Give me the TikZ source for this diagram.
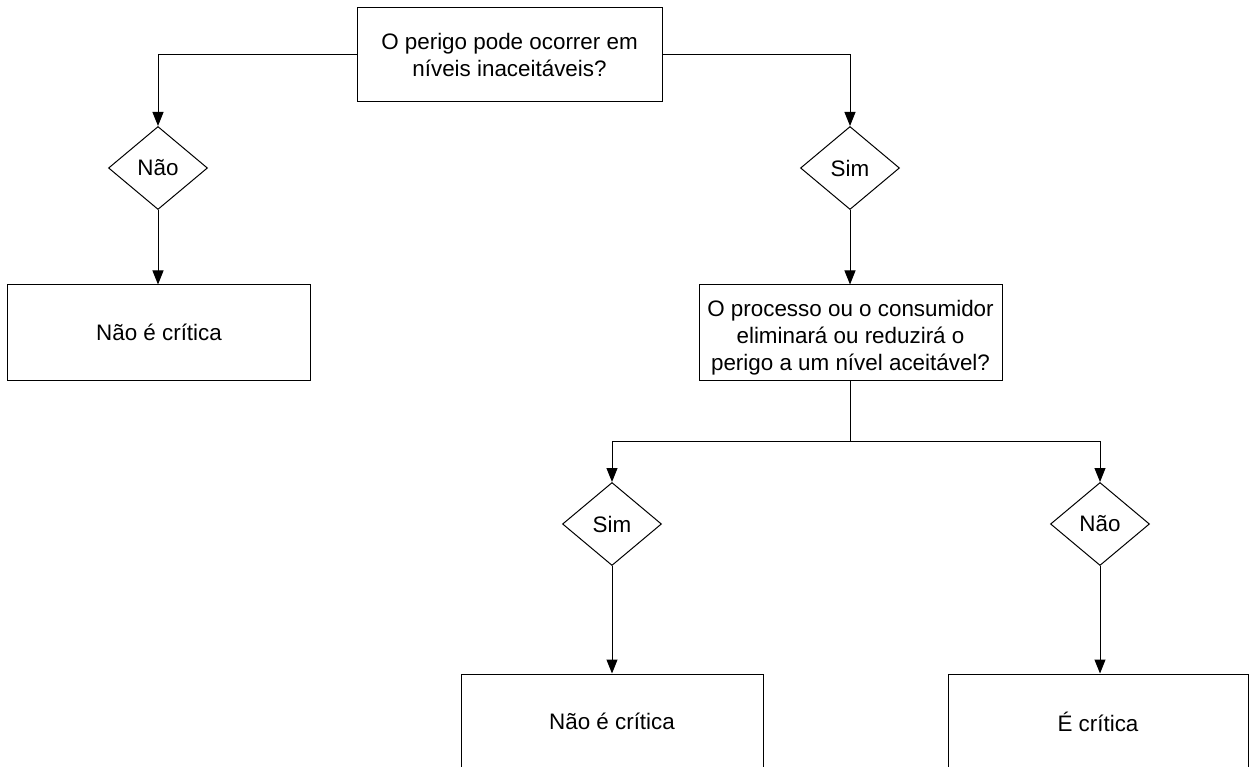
\documentclass[tikz,border=0pt]{standalone}
\usepackage{fontspec}
\setmainfont{Liberation Sans}
\usetikzlibrary{shapes.geometric,arrows.meta}

\tikzset{
  label font/.style={font=\fontsize{22.4}{26.8}\selectfont},
  box/.style={draw, line width=1pt, rectangle, align=center, inner sep=0pt,
    minimum width=303pt, minimum height=95pt, label font},
  boxtext/.style={align=center, inner sep=0pt, label font},
  choice/.style={draw, line width=1pt, diamond, inner sep=0pt,
    minimum width=99pt, minimum height=83pt, label font},
  link/.style={line width=1pt},
  flow/.style={line width=1pt, -{Triangle[width=11pt,length=14pt]}}
}

\begin{document}
\begin{tikzpicture}[x=1pt,y=-1pt]
  \useasboundingbox (0,0) rectangle (1256,767);
  \clip (0,0) rectangle (1256,767);

  % top question
  \node[box, minimum width=305pt, minimum height=94pt] (q1) at (509.5,55)
    {O perigo pode ocorrer em\\níveis inaceitáveis?};

  % first level answers
  \node[choice] (n1) at (158,168) {Não};
  \node[choice] (s1) at (850,168) {Sim};

  \node[box] (a) at (159,332.5) {Não é crítica};

  % second question: frame and its text, set a little below centre
  \node[box] (q2) at (850.5,332.5) {};
  \node[boxtext] (q2text) at (850.5,338)
    {O processo ou o consumidor\\eliminará ou reduzirá o\\perigo a um nível aceitável?};

  \coordinate (j) at (850,441);

  % second level answers
  \node[choice] (s2) at (612,524) {Sim};
  \node[choice] (n2) at (1100,524) {Não};

  \node[box, minimum width=302pt] (b) at (612,721.5) {Não é crítica};
  \node[box, minimum width=300pt] (c) at (1098,721.5) {É crítica};

  % connectors
  \draw[flow] (q1.west) -| (n1.north);
  \draw[flow] (q1.east) -| (s1.north);
  \draw[flow] (n1.south) -- (a.north -| n1.south);
  \draw[flow] (s1.south) -- (q2.north -| s1.south);
  \draw[link] (q2.south -| j) -- (j);
  \draw[flow] (j) -| (s2.north);
  \draw[flow] (j) -| (n2.north);
  \draw[flow] (s2.south) -- (b.north -| s2.south);
  \draw[flow] (n2.south) -- (c.north -| n2.south);
\end{tikzpicture}
\end{document}
